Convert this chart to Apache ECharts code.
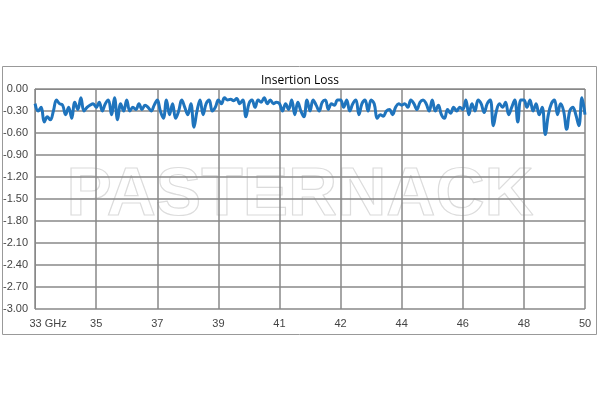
<!DOCTYPE html><html><head><meta charset="utf-8"><script src="https://cdn.jsdelivr.net/npm/echarts@6/dist/echarts.min.js"></script></head><body style="margin:0;background:#fff"><div id="c" style="width:600px;height:400px"></div><script>
const xLabels=['33 GHz','35','37','39','41','42','44','46','48','50'];
const yTicks=[0,-0.3,-0.6,-0.9,-1.2,-1.5,-1.8,-2.1,-2.4,-2.7,-3.0];
const loss0=[-0.2,-0.3,-0.25,-0.45,-0.38,-0.42,-0.3,-0.15,-0.2,-0.22,-0.35,-0.25,-0.4,-0.18,-0.28,-0.12,-0.3,-0.25,-0.22,-0.2];
const loss1=[-0.25,-0.18,-0.3,-0.2,-0.15,-0.35,-0.12,-0.42,-0.2,-0.3,-0.15,-0.3,-0.25,-0.28,-0.2,-0.28,-0.22,-0.25,-0.3,-0.22];
const loss2=[-0.15,-0.3,-0.4,-0.15,-0.35,-0.2,-0.4,-0.3,-0.15,-0.25,-0.35,-0.2,-0.52,-0.3,-0.15,-0.35,-0.2,-0.15,-0.3,-0.25];
const loss3=[-0.15,-0.2,-0.12,-0.15,-0.14,-0.16,-0.13,-0.2,-0.15,-0.38,-0.2,-0.15,-0.25,-0.15,-0.18,-0.12,-0.2,-0.15,-0.2,-0.18];
const loss4=[-0.2,-0.3,-0.2,-0.28,-0.15,-0.35,-0.18,-0.3,-0.38,-0.15,-0.3,-0.15,-0.22,-0.3,-0.18,-0.15,-0.28,-0.2,-0.22,-0.15];
const loss5=[-0.15,-0.25,-0.15,-0.3,-0.2,-0.15,-0.35,-0.2,-0.15,-0.3,-0.15,-0.2,-0.4,-0.35,-0.37,-0.3,-0.28,-0.35,-0.25,-0.2];
const loss6=[-0.22,-0.2,-0.25,-0.15,-0.2,-0.28,-0.18,-0.15,-0.2,-0.3,-0.15,-0.3,-0.22,-0.35,-0.4,-0.28,-0.33,-0.25,-0.3,-0.25];
const loss7=[-0.28,-0.15,-0.35,-0.2,-0.3,-0.15,-0.2,-0.32,-0.2,-0.15,-0.5,-0.3,-0.2,-0.25,-0.18,-0.35,-0.25,-0.15,-0.45,-0.15];
const loss8=[-0.15,-0.25,-0.15,-0.3,-0.2,-0.35,-0.25,-0.62,-0.35,-0.2,-0.15,-0.35,-0.2,-0.3,-0.55,-0.3,-0.25,-0.35,-0.5,-0.12,-0.35];
const loss=[].concat(loss0,loss1,loss2,loss3,loss4,loss5,loss6,loss7,loss8);
const data=loss.map((v,i)=>[i/20,v]);
const ch=echarts.init(document.getElementById('c'));
ch.setOption({animation:false,
graphic:[{type:'rect',shape:{x:2.5,y:66.5,width:594,height:268},style:{fill:'none',stroke:'#999',lineWidth:1}},
{type:'text',left:'center',top:162,z:0,style:{text:'PASTERNACK',font:'bold 68px "Liberation Sans"',fill:'rgba(255,255,255,0)',stroke:'#dcdcdc',lineWidth:1.2,letterSpacing:6}}],
title:{text:'Insertion Loss',left:'center',top:70,textStyle:{fontSize:12,fontWeight:'normal',color:'#000',fontFamily:'Open Sans'}},
grid:{left:34,right:15,top:89,bottom:91},
xAxis:{type:'value',min:0,max:9,interval:1,axisLine:{lineStyle:{color:'#888'}},axisTick:{show:false},splitLine:{lineStyle:{color:'#888',width:1.5}},
axisLabel:{formatter:v=>xLabels[v],color:'#444',fontSize:11,margin:9,
rich:{}},},
yAxis:{type:'value',min:-3,max:0,interval:0.3,axisLine:{show:true,lineStyle:{color:'#888'}},axisTick:{show:false},splitLine:{lineStyle:{color:'#888',width:1.5}},
axisLabel:{formatter:v=>v.toFixed(2),color:'#444',fontSize:11,margin:7}},
series:[{type:'line',data:data,showSymbol:false,smooth:0.4,lineStyle:{color:'#1f74bd',width:3},z:5}]});
ch.setOption({xAxis:{axisLabel:{formatter:v=>v===0?'{a|'+xLabels[0]+'}':xLabels[v],rich:{a:{color:'#444',fontSize:11,padding:[0,0,0,26]}}}}});
</script></body></html>
